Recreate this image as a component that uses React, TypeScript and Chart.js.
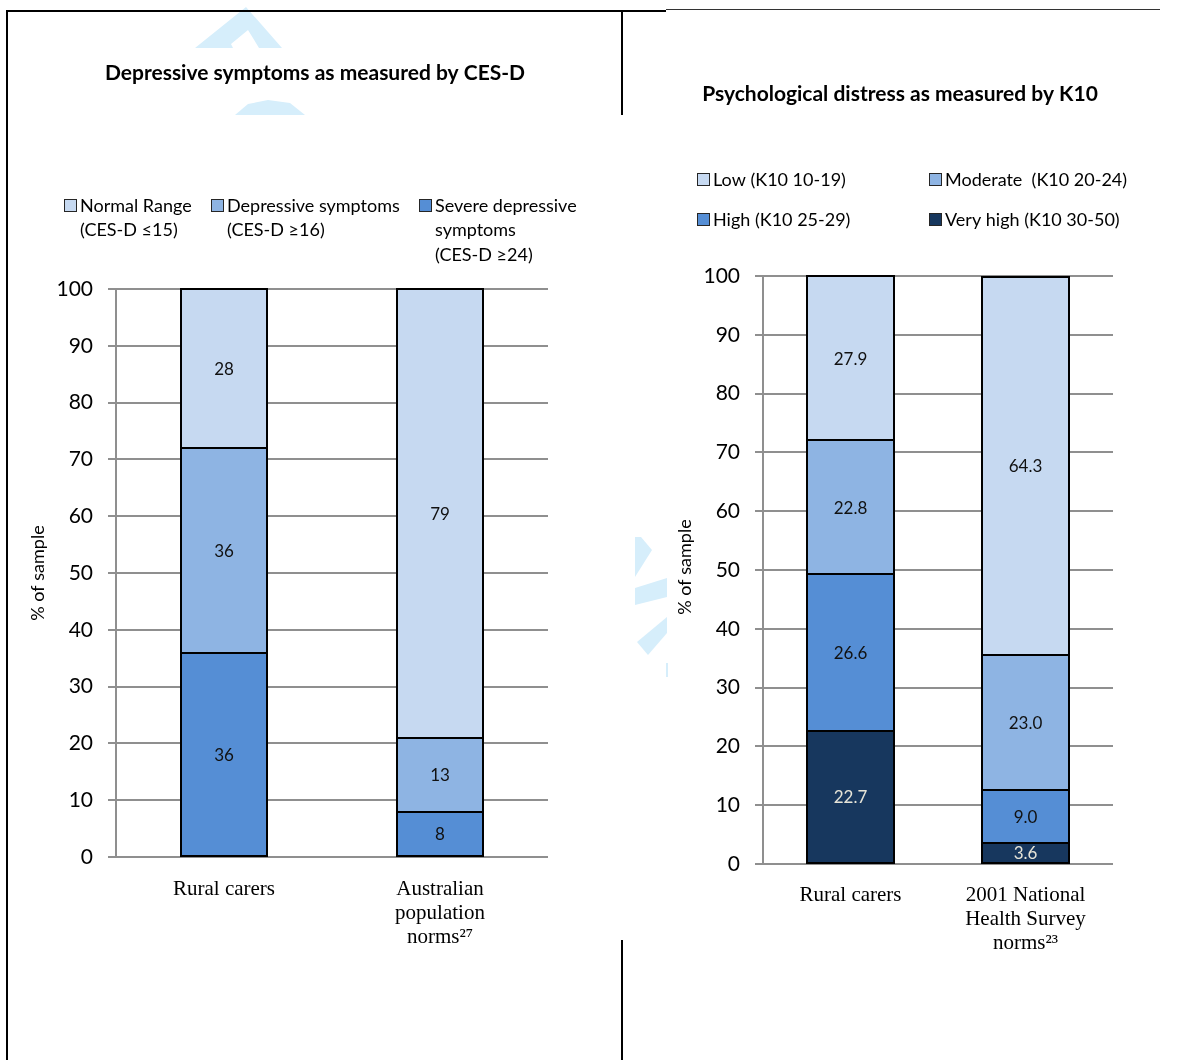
import React, { useEffect, useRef } from 'react';
import { Chart, registerables } from 'chart.js';

Chart.register(...registerables);
Chart.defaults.font.family = 'Lato';

// ---- CES-D panel data ----
const cesdTitle = 'Depressive symptoms as measured by CES-D';
const cesdCategories = [['Rural carers'], ['Australian', 'population', 'norms²⁷']];
const cesdSevere = [36, 8];
const cesdDepressive = [36, 13];
const cesdNormal = [28, 79];
const cesdLegend = [
  ['Normal Range', '(CES-D ≤15)'],
  ['Depressive symptoms', '(CES-D ≥16)'],
  ['Severe depressive', 'symptoms', '(CES-D ≥24)'],
];

// ---- K10 panel data ----
const k10Title = 'Psychological distress as measured by K10';
const k10Categories = [['Rural carers'], ['2001 National', 'Health Survey', 'norms²³']];
const k10VeryHigh = [22.7, 3.6];
const k10High = [26.6, 9.0];
const k10Moderate = [22.8, 23.0];
const k10Low = [27.9, 64.3];
const k10Legend = [
  ['Low (K10 10-19)'],
  ['Moderate  (K10 20-24)'],
  ['High (K10 25-29)'],
  ['Very high (K10 30-50)'],
];

const yAxisTitle = '% of sample';
const yMin = 0;
const yMax = 100;
const yStep = 10;

// ---- palette ----
const LIGHT = '#C6D9F1';
const MID = '#8EB4E3';
const STRONG = '#558ED5';
const NAVY = '#17375E';
const GRID = '#8f8f8f';

type Series = { values: number[]; color: string; text: string };
type LegendItem = { lines: string[]; color: string; x: number; y: number };

interface PanelSpec {
  left: number;
  width: number;
  height: number;
  plotLeft: number;
  plotTop: number;
  plotRight: number;
  plotBottom: number;
  barPct: number;
  decimals: number;
  xPad: number;
  categories: string[][];
  series: Series[];
  title: string;
  titleX: number;
  titleY: number;
  legend: LegendItem[];
  yTitleX: number;
  yTitleY: number;
}

const DARK_TEXT = '#111111';
const PALE_TEXT = '#e6e4d8';

const cesdSpec: PanelSpec = {
  left: 0,
  width: 620,
  height: 1000,
  plotLeft: 116,
  plotTop: 289,
  plotRight: 548,
  plotBottom: 857,
  barPct: 0.4,
  decimals: 0,
  xPad: 21,
  categories: cesdCategories,
  series: [
    { values: cesdSevere, color: STRONG, text: DARK_TEXT },
    { values: cesdDepressive, color: MID, text: DARK_TEXT },
    { values: cesdNormal, color: LIGHT, text: DARK_TEXT },
  ],
  title: cesdTitle,
  titleX: 315,
  titleY: 73,
  legend: [
    { lines: cesdLegend[0], color: LIGHT, x: 64, y: 205 },
    { lines: cesdLegend[1], color: MID, x: 211, y: 205 },
    { lines: cesdLegend[2], color: STRONG, x: 419, y: 205 },
  ],
  yTitleX: 38,
  yTitleY: 573,
};

const k10Spec: PanelSpec = {
  left: 667,
  width: 527,
  height: 1000,
  plotLeft: 96,
  plotTop: 276,
  plotRight: 446,
  plotBottom: 864,
  barPct: 0.5,
  decimals: 1,
  xPad: 20,
  categories: k10Categories,
  series: [
    { values: k10VeryHigh, color: NAVY, text: PALE_TEXT },
    { values: k10High, color: STRONG, text: DARK_TEXT },
    { values: k10Moderate, color: MID, text: DARK_TEXT },
    { values: k10Low, color: LIGHT, text: DARK_TEXT },
  ],
  title: k10Title,
  titleX: 233,
  titleY: 94,
  legend: [
    { lines: k10Legend[0], color: LIGHT, x: 30, y: 179 },
    { lines: k10Legend[1], color: MID, x: 262, y: 179 },
    { lines: k10Legend[2], color: STRONG, x: 30, y: 219 },
    { lines: k10Legend[3], color: NAVY, x: 262, y: 219 },
  ],
  yTitleX: 18,
  yTitleY: 567,
};

// Segment outlines (shared 2px edges) and centred value labels
function makeValueLabels(spec: PanelSpec) {
  return {
    id: 'valueLabels',
    afterDatasetsDraw(chart: any) {
      const ctx = chart.ctx;
      ctx.save();
      ctx.strokeStyle = '#000';
      ctx.lineWidth = 2;
      chart.data.datasets.forEach((_ds: any, i: number) => {
        const meta = chart.getDatasetMeta(i);
        meta.data.forEach((el: any) => {
          const p = el.getProps(['x', 'y', 'base', 'width'], true);
          const l = Math.round(p.x - p.width / 2);
          const r = Math.round(p.x + p.width / 2);
          const t = Math.round(Math.min(p.y, p.base));
          const b = Math.round(Math.max(p.y, p.base));
          ctx.strokeRect(l, t, r - l, b - t);
        });
      });

      ctx.font = '17px Lato';
      ctx.textAlign = 'center';
      ctx.textBaseline = 'middle';
      chart.data.datasets.forEach((ds: any, i: number) => {
        const meta = chart.getDatasetMeta(i);
        meta.data.forEach((el: any, j: number) => {
          const v = ds.data[j];
          const p = el.getProps(['x', 'y', 'base'], true);
          ctx.fillStyle = spec.series[i].text;
          ctx.fillText(v.toFixed(spec.decimals), p.x, (p.y + p.base) / 2 + 1);
        });
      });
      ctx.restore();
    },
  };
}

// Title, legend and rotated axis title
function makeDecor(spec: PanelSpec) {
  return {
    id: 'panelDecor',
    afterDraw(chart: any) {
      const ctx = chart.ctx;
      ctx.save();
      ctx.fillStyle = '#000';
      ctx.textBaseline = 'middle';
      ctx.textAlign = 'center';
      ctx.font = 'bold 21px Lato';
      ctx.fillText(spec.title, spec.titleX, spec.titleY);

      ctx.textAlign = 'left';
      ctx.font = '18px Lato';
      spec.legend.forEach((item) => {
        ctx.fillStyle = item.color;
        ctx.fillRect(item.x + 0.5, item.y - 5.5, 12, 12);
        ctx.strokeStyle = '#262626';
        ctx.lineWidth = 1;
        ctx.strokeRect(item.x + 0.5, item.y - 5.5, 12, 12);
        ctx.fillStyle = '#000';
        item.lines.forEach((line, k) => {
          ctx.fillText(line, item.x + 16, item.y + 1 + k * 24.5);
        });
      });

      ctx.font = '18px Lato';
      ctx.textAlign = 'center';
      ctx.translate(spec.yTitleX, spec.yTitleY);
      ctx.rotate(-Math.PI / 2);
      ctx.fillText(yAxisTitle, 0, 0);
      ctx.restore();
    },
  };
}

function StackedPanel({ spec }: { spec: PanelSpec }) {
  const ref = useRef<HTMLCanvasElement | null>(null);
  useEffect(() => {
    if (!ref.current) return;
    const chart = new Chart(ref.current, {
      type: 'bar',
      data: {
        labels: spec.categories,
        datasets: spec.series.map((s) => ({
          data: s.values,
          backgroundColor: s.color,
          borderWidth: 0,
          inflateAmount: 0,
          barPercentage: spec.barPct,
          categoryPercentage: 1,
        })),
      },
      options: {
        responsive: false,
        animation: false,
        layout: {
          padding: { left: 0, top: spec.plotTop, right: spec.width - spec.plotRight, bottom: 0 },
        },
        plugins: {
          legend: { display: false },
          title: { display: false },
          tooltip: { enabled: false },
        },
        scales: {
          x: {
            stacked: true,
            grid: { display: false, drawTicks: false },
            border: { display: false },
            ticks: {
              color: '#000',
              font: { family: 'Liberation Serif', size: 21, lineHeight: 1.14 },
              padding: spec.xPad,
              maxRotation: 0,
              autoSkip: false,
            },
            afterFit: (s: any) => {
              s.height = spec.height - spec.plotBottom;
            },
          },
          y: {
            stacked: true,
            min: yMin,
            max: yMax,
            ticks: {
              stepSize: yStep,
              color: '#000',
              font: { family: 'Lato', size: 21 },
              padding: 15,
            },
            grid: { color: GRID, lineWidth: 2, tickLength: 8 },
            border: { display: true, color: GRID, width: 2 },
            afterFit: (s: any) => {
              s.width = spec.plotLeft;
            },
          },
        },
      } as any,
      plugins: [makeValueLabels(spec), makeDecor(spec)],
    });
    return () => chart.destroy();
  }, [spec]);

  return (
    <canvas
      ref={ref}
      width={spec.width}
      height={spec.height}
      style={{ position: 'absolute', left: spec.left, top: 0, width: spec.width, height: spec.height }}
    />
  );
}

const WM = '#d6eefb';

export default function App() {
  return (
    <div
      style={{
        position: 'absolute',
        left: 0,
        top: 0,
        width: 1194,
        height: 1060,
        background: '#fff',
        overflow: 'hidden',
      }}
    >
      <svg width={1194} height={1060} style={{ position: 'absolute', left: 0, top: 0 }}>
        {/* faint page watermark */}
        <polygon points="195,48 246,7 282,48 259,48 248,30 231,44 233,48" fill={WM} />
        <polygon points="235,115 248,104 268,100 290,103 305,115" fill={WM} />
        <polygon points="635,537 641,537 652,550 635,577" fill={WM} />
        <polygon points="635,588 667,578 667,597 635,605" fill={WM} />
        <polygon points="637,642 667,617 667,633 648,655" fill={WM} />
        <rect x={666} y={663} width={2} height={14} fill={WM} />
        {/* table borders */}
        <rect x={6} y={10} width={2} height={1050} fill="#000" />
        <rect x={6} y={10} width={660} height={2} fill="#000" />
        <rect x={666} y={9} width={494} height={1} fill="#333" />
        <rect x={621} y={10} width={2} height={105} fill="#000" />
        <rect x={621} y={940} width={2} height={120} fill="#000" />
      </svg>
      <StackedPanel spec={cesdSpec} />
      <StackedPanel spec={k10Spec} />
    </div>
  );
}
